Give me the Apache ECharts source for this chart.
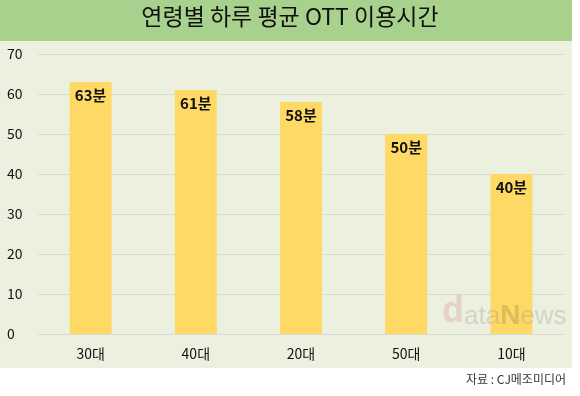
<!DOCTYPE html>
<html><head><meta charset="utf-8">
<script src="https://cdn.jsdelivr.net/npm/echarts@6/dist/echarts.min.js"></script>
<style>html,body{margin:0;padding:0;background:#fff}#c{width:580px;height:396px}</style>
</head><body><div id="c"></div>
<script>
const title = '연령별 하루 평균 OTT 이용시간';
const categories = ['30대', '40대', '20대', '50대', '10대'];
const values = [63, 61, 58, 50, 40];
const yTicks = [0, 10, 20, 30, 40, 50, 60, 70];
const source = '자료 : CJ메조미디어';
const FONT = '"Noto Sans CJK KR", "Noto Sans", sans-serif';
const chart = echarts.init(document.getElementById('c'), null, {renderer: 'canvas'});
chart.setOption({
  backgroundColor: '#ffffff',
  animation: false,
  graphic: [
    {type: 'rect', shape: {x: 0, y: 0, width: 572, height: 41}, style: {fill: '#a9d18e'}, z: -10},
    {type: 'rect', shape: {x: 0, y: 41, width: 572, height: 327}, style: {fill: '#ebf1de'}, z: -10},
    {type: 'text', left: 'center', top: 5, style: {text: title, font: '23px ' + FONT, fill: '#111'}, z: 5},
    {type: 'text', right: 14, top: 373, style: {text: source, font: '12px ' + FONT, fill: '#333'}},
    {type: 'text', left: 442, top: 294, z: 10, style: {
      text: '{d|d}{a|ata}{n|N}{a|ews}',
      rich: {
        d: {font: 'bold 36px "Liberation Sans", sans-serif', fill: 'rgba(220,130,130,0.28)', verticalAlign: 'bottom'},
        a: {font: '26px "Liberation Sans", sans-serif', fill: 'rgba(140,140,140,0.28)', verticalAlign: 'bottom'},
        n: {font: 'bold 28px "Liberation Sans", sans-serif', fill: 'rgba(110,110,60,0.25)', verticalAlign: 'bottom'}
      }
    }}
  ],
  grid: {left: 38, right: 16, top: 54, bottom: 62, containLabel: false},
  xAxis: {
    type: 'category', data: categories,
    axisLine: {show: false}, axisTick: {show: false},
    axisLabel: {color: '#111', fontSize: 14, fontFamily: FONT, margin: 13}
  },
  yAxis: {
    type: 'value', min: 0, max: 70, interval: 10,
    axisLine: {show: false}, axisTick: {show: false},
    splitLine: {lineStyle: {color: '#d9d9d9', width: 1}},
    axisLabel: {color: '#111', fontSize: 14, fontFamily: FONT, align: 'left', margin: 31,
      formatter: v => yTicks.includes(v) ? String(v) : ''}
  },
  series: [{
    type: 'bar', data: values, barWidth: 42,
    itemStyle: {color: '#ffd966'},
    label: {show: true, position: 'insideTop', distance: 6, formatter: p => p.value + '분',
      color: '#111', fontSize: 15, fontWeight: 'bold', fontFamily: FONT}
  }]
});
</script></body></html>
